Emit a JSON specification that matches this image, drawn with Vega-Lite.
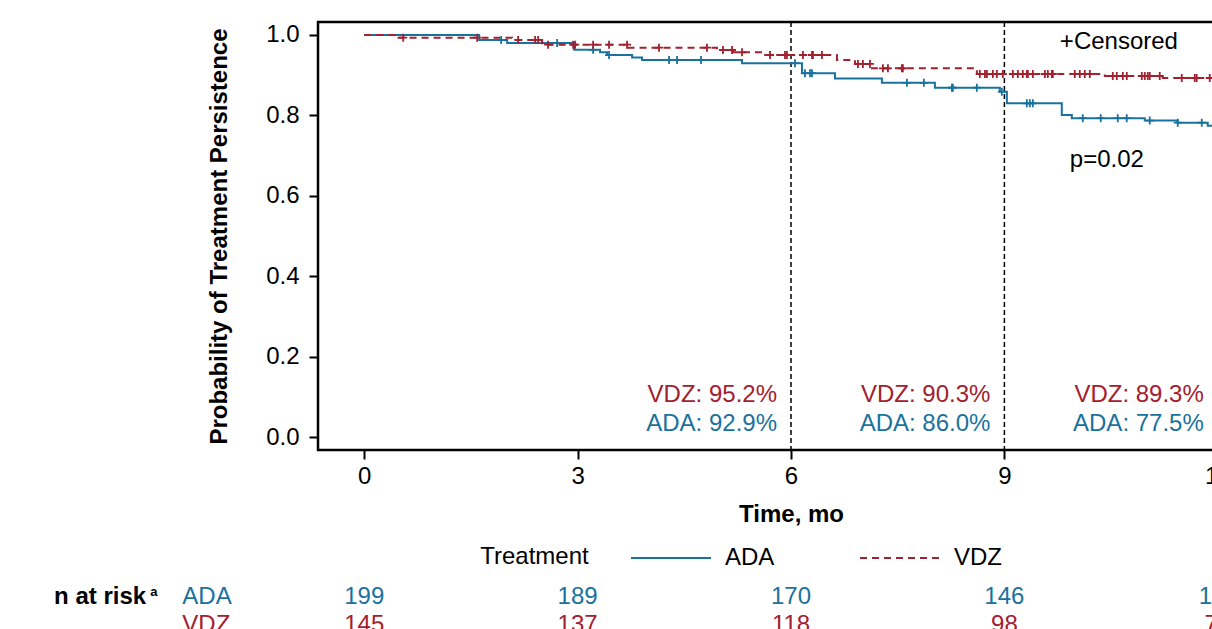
{
  "$schema": "https://vega.github.io/schema/vega-lite/v6.json",
  "width": 946,
  "height": 428,
  "autosize": {"type": "none"},
  "padding": {"left": 318, "top": 22, "right": 0, "bottom": 179},
  "config": {
    "font": "Liberation Sans",
    "view": {"stroke": "black", "strokeWidth": 2.5},
    "axis": {"grid": false, "domain": false, "tickColor": "black", "tickWidth": 2, "tickSize": 9, "labelColor": "black", "labelFontSize": 24, "titleFontSize": 24, "titleFontWeight": "bold", "titleColor": "black"}
  },
  "datasets": {
    "km": [
      {"group": "ADA", "time": 0, "surv": 1.0},
      {"group": "ADA", "time": 1.616, "surv": 0.9876},
      {"group": "ADA", "time": 2.009, "surv": 0.98},
      {"group": "ADA", "time": 2.951, "surv": 0.963},
      {"group": "ADA", "time": 3.316, "surv": 0.957},
      {"group": "ADA", "time": 3.414, "surv": 0.95},
      {"group": "ADA", "time": 3.766, "surv": 0.944},
      {"group": "ADA", "time": 3.906, "surv": 0.938},
      {"group": "ADA", "time": 5.311, "surv": 0.93},
      {"group": "ADA", "time": 6.154, "surv": 0.905},
      {"group": "ADA", "time": 6.618, "surv": 0.892},
      {"group": "ADA", "time": 7.278, "surv": 0.881},
      {"group": "ADA", "time": 8.023, "surv": 0.869},
      {"group": "ADA", "time": 8.936, "surv": 0.859},
      {"group": "ADA", "time": 9.035, "surv": 0.83},
      {"group": "ADA", "time": 9.807, "surv": 0.801},
      {"group": "ADA", "time": 9.948, "surv": 0.793},
      {"group": "ADA", "time": 10.974, "surv": 0.787},
      {"group": "ADA", "time": 11.437, "surv": 0.782},
      {"group": "ADA", "time": 11.859, "surv": 0.774},
      {"group": "ADA", "time": 12.3, "surv": 0.774},
      {"group": "VDZ", "time": 0, "surv": 1.0},
      {"group": "VDZ", "time": 0.464, "surv": 0.9933},
      {"group": "VDZ", "time": 2.08, "surv": 0.9876},
      {"group": "VDZ", "time": 2.5, "surv": 0.976},
      {"group": "VDZ", "time": 3.709, "surv": 0.9684},
      {"group": "VDZ", "time": 4.96, "surv": 0.9627},
      {"group": "VDZ", "time": 5.185, "surv": 0.957},
      {"group": "VDZ", "time": 5.592, "surv": 0.9502},
      {"group": "VDZ", "time": 6.646, "surv": 0.938},
      {"group": "VDZ", "time": 6.899, "surv": 0.928},
      {"group": "VDZ", "time": 7.138, "surv": 0.917},
      {"group": "VDZ", "time": 8.613, "surv": 0.903},
      {"group": "VDZ", "time": 10.412, "surv": 0.898},
      {"group": "VDZ", "time": 11.227, "surv": 0.893},
      {"group": "VDZ", "time": 12.3, "surv": 0.893}
    ],
    "censor": [
      {"group": "ADA", "time": 1.925, "surv": 0.9876},
      {"group": "ADA", "time": 2.712, "surv": 0.98},
      {"group": "ADA", "time": 3.218, "surv": 0.963},
      {"group": "ADA", "time": 3.442, "surv": 0.95},
      {"group": "ADA", "time": 4.286, "surv": 0.938},
      {"group": "ADA", "time": 4.398, "surv": 0.938},
      {"group": "ADA", "time": 4.735, "surv": 0.938},
      {"group": "ADA", "time": 6.056, "surv": 0.93},
      {"group": "ADA", "time": 6.196, "surv": 0.905},
      {"group": "ADA", "time": 6.267, "surv": 0.905},
      {"group": "ADA", "time": 6.295, "surv": 0.905},
      {"group": "ADA", "time": 7.63, "surv": 0.881},
      {"group": "ADA", "time": 7.868, "surv": 0.881},
      {"group": "ADA", "time": 8.262, "surv": 0.869},
      {"group": "ADA", "time": 8.276, "surv": 0.869},
      {"group": "ADA", "time": 8.613, "surv": 0.869},
      {"group": "ADA", "time": 8.964, "surv": 0.859},
      {"group": "ADA", "time": 9.316, "surv": 0.83},
      {"group": "ADA", "time": 9.358, "surv": 0.83},
      {"group": "ADA", "time": 9.4, "surv": 0.83},
      {"group": "ADA", "time": 10.102, "surv": 0.793},
      {"group": "ADA", "time": 10.355, "surv": 0.793},
      {"group": "ADA", "time": 10.594, "surv": 0.793},
      {"group": "ADA", "time": 10.72, "surv": 0.793},
      {"group": "ADA", "time": 11.044, "surv": 0.787},
      {"group": "ADA", "time": 11.437, "surv": 0.782},
      {"group": "ADA", "time": 11.775, "surv": 0.782},
      {"group": "VDZ", "time": 0.548, "surv": 0.9933},
      {"group": "VDZ", "time": 1.588, "surv": 0.9933},
      {"group": "VDZ", "time": 2.164, "surv": 0.9876},
      {"group": "VDZ", "time": 2.403, "surv": 0.9876},
      {"group": "VDZ", "time": 2.445, "surv": 0.9876},
      {"group": "VDZ", "time": 2.585, "surv": 0.976},
      {"group": "VDZ", "time": 2.937, "surv": 0.976},
      {"group": "VDZ", "time": 2.965, "surv": 0.976},
      {"group": "VDZ", "time": 3.218, "surv": 0.976},
      {"group": "VDZ", "time": 3.442, "surv": 0.976},
      {"group": "VDZ", "time": 3.695, "surv": 0.976},
      {"group": "VDZ", "time": 4.145, "surv": 0.9684},
      {"group": "VDZ", "time": 4.819, "surv": 0.9684},
      {"group": "VDZ", "time": 5.044, "surv": 0.9627},
      {"group": "VDZ", "time": 5.171, "surv": 0.9627},
      {"group": "VDZ", "time": 5.311, "surv": 0.957},
      {"group": "VDZ", "time": 5.705, "surv": 0.9502},
      {"group": "VDZ", "time": 5.915, "surv": 0.9502},
      {"group": "VDZ", "time": 5.943, "surv": 0.9502},
      {"group": "VDZ", "time": 6.168, "surv": 0.9502},
      {"group": "VDZ", "time": 6.295, "surv": 0.9502},
      {"group": "VDZ", "time": 6.309, "surv": 0.9502},
      {"group": "VDZ", "time": 6.435, "surv": 0.9502},
      {"group": "VDZ", "time": 6.941, "surv": 0.928},
      {"group": "VDZ", "time": 7.011, "surv": 0.928},
      {"group": "VDZ", "time": 7.11, "surv": 0.928},
      {"group": "VDZ", "time": 7.292, "surv": 0.917},
      {"group": "VDZ", "time": 7.363, "surv": 0.917},
      {"group": "VDZ", "time": 7.559, "surv": 0.917},
      {"group": "VDZ", "time": 7.573, "surv": 0.917},
      {"group": "VDZ", "time": 8.655, "surv": 0.903},
      {"group": "VDZ", "time": 8.726, "surv": 0.903},
      {"group": "VDZ", "time": 8.754, "surv": 0.903},
      {"group": "VDZ", "time": 8.838, "surv": 0.903},
      {"group": "VDZ", "time": 8.894, "surv": 0.903},
      {"group": "VDZ", "time": 8.978, "surv": 0.903},
      {"group": "VDZ", "time": 9.119, "surv": 0.903},
      {"group": "VDZ", "time": 9.189, "surv": 0.903},
      {"group": "VDZ", "time": 9.259, "surv": 0.903},
      {"group": "VDZ", "time": 9.316, "surv": 0.903},
      {"group": "VDZ", "time": 9.33, "surv": 0.903},
      {"group": "VDZ", "time": 9.4, "surv": 0.903},
      {"group": "VDZ", "time": 9.569, "surv": 0.903},
      {"group": "VDZ", "time": 9.611, "surv": 0.903},
      {"group": "VDZ", "time": 9.667, "surv": 0.903},
      {"group": "VDZ", "time": 9.681, "surv": 0.903},
      {"group": "VDZ", "time": 9.99, "surv": 0.903},
      {"group": "VDZ", "time": 10.06, "surv": 0.903},
      {"group": "VDZ", "time": 10.13, "surv": 0.903},
      {"group": "VDZ", "time": 10.201, "surv": 0.903},
      {"group": "VDZ", "time": 10.524, "surv": 0.898},
      {"group": "VDZ", "time": 10.58, "surv": 0.898},
      {"group": "VDZ", "time": 10.665, "surv": 0.898},
      {"group": "VDZ", "time": 10.721, "surv": 0.898},
      {"group": "VDZ", "time": 10.932, "surv": 0.898},
      {"group": "VDZ", "time": 10.974, "surv": 0.898},
      {"group": "VDZ", "time": 11.016, "surv": 0.898},
      {"group": "VDZ", "time": 11.044, "surv": 0.898},
      {"group": "VDZ", "time": 11.184, "surv": 0.898},
      {"group": "VDZ", "time": 11.494, "surv": 0.893},
      {"group": "VDZ", "time": 11.676, "surv": 0.893},
      {"group": "VDZ", "time": 11.704, "surv": 0.893},
      {"group": "VDZ", "time": 11.887, "surv": 0.893}
    ],
    "pct": [
      {"group": "VDZ", "time": 6, "label": "VDZ: 95.2%"},
      {"group": "VDZ", "time": 9, "label": "VDZ: 90.3%"},
      {"group": "VDZ", "time": 12, "label": "VDZ: 89.3%"},
      {"group": "ADA", "time": 6, "label": "ADA: 92.9%"},
      {"group": "ADA", "time": 9, "label": "ADA: 86.0%"},
      {"group": "ADA", "time": 12, "label": "ADA: 77.5%"}
    ],
    "risk": [
      {"group": "ADA", "time": 0, "n": 199},
      {"group": "ADA", "time": 3, "n": 189},
      {"group": "ADA", "time": 6, "n": 170},
      {"group": "ADA", "time": 9, "n": 146},
      {"group": "ADA", "time": 12, "n": 117},
      {"group": "VDZ", "time": 0, "n": 145},
      {"group": "VDZ", "time": 3, "n": 137},
      {"group": "VDZ", "time": 6, "n": 118},
      {"group": "VDZ", "time": 9, "n": 98},
      {"group": "VDZ", "time": 12, "n": 72}
    ]
  },
  "layer": [
    {
      "data": {"values": [{"time": 6}, {"time": 9}]},
      "mark": {"type": "rule", "color": "black", "strokeWidth": 1.5, "strokeDash": [5, 3]},
      "encoding": {
        "x": {"field": "time", "type": "quantitative", "scale": {"domain": [-0.65, 12.65], "nice": false, "zero": false},
          "axis": {"values": [0, 3, 6, 9, 12], "format": "d", "title": "Time, mo", "labelPadding": 5, "titlePadding": 14}}
      }
    },
    {
      "data": {"name": "km"},
      "mark": {"type": "line", "interpolate": "step-after", "strokeWidth": 2},
      "encoding": {
        "x": {"field": "time", "type": "quantitative"},
        "y": {"field": "surv", "type": "quantitative", "scale": {"domain": [-0.0323, 1.0323], "nice": false, "zero": false},
          "axis": {"values": [0, 0.2, 0.4, 0.6, 0.8, 1.0], "format": ".1f", "title": "Probability of Treatment Persistence", "labelPadding": 10, "titlePadding": 34}},
        "color": {"field": "group", "type": "nominal",
          "scale": {"domain": ["ADA", "VDZ"], "range": ["#19729E", "#A3202E"]},
          "legend": {"orient": "none", "legendX": 312, "legendY": 495, "direction": "horizontal", "title": null, "labelFontSize": 24, "labelColor": "black", "labelOffset": 13, "symbolType": "stroke", "symbolSize": 6400, "symbolStrokeWidth": 2, "columnPadding": 81}},
        "strokeDash": {"field": "group", "type": "nominal",
          "scale": {"domain": ["ADA", "VDZ"], "range": [[1, 0], [7, 5]]},
          "legend": {"orient": "none", "legendX": 312, "legendY": 495, "direction": "horizontal", "title": null, "labelFontSize": 24, "labelColor": "black", "labelOffset": 13, "symbolType": "stroke", "symbolSize": 6400, "symbolStrokeWidth": 2, "columnPadding": 81}}
      }
    },
    {
      "data": {"name": "censor"},
      "mark": {"type": "point", "shape": "M-1,0L1,0M0,-1L0,1", "size": 64, "filled": false, "strokeWidth": 1.8, "opacity": 1},
      "encoding": {
        "x": {"field": "time", "type": "quantitative"},
        "y": {"field": "surv", "type": "quantitative"},
        "color": {"field": "group", "type": "nominal"}
      }
    },
    {
      "data": {"name": "pct"},
      "transform": [{"filter": "datum.group == 'VDZ'"}],
      "mark": {"type": "text", "align": "right", "baseline": "middle", "fontSize": 24, "dx": -14, "color": "#A3202E"},
      "encoding": {
        "x": {"field": "time", "type": "quantitative"},
        "y": {"datum": 0.1045},
        "text": {"field": "label"}
      }
    },
    {
      "data": {"name": "pct"},
      "transform": [{"filter": "datum.group == 'ADA'"}],
      "mark": {"type": "text", "align": "right", "baseline": "middle", "fontSize": 24, "dx": -14, "color": "#19729E"},
      "encoding": {
        "x": {"field": "time", "type": "quantitative"},
        "y": {"datum": 0.0323},
        "text": {"field": "label"}
      }
    },
    {
      "data": {"values": [{"label": "+Censored"}]},
      "mark": {"type": "text", "align": "left", "baseline": "middle", "fontSize": 24, "color": "black"},
      "encoding": {"x": {"datum": 9.78}, "y": {"datum": 0.9826}, "text": {"field": "label"}}
    },
    {
      "data": {"values": [{"label": "p=0.02"}]},
      "mark": {"type": "text", "align": "left", "baseline": "middle", "fontSize": 24, "color": "black"},
      "encoding": {"x": {"datum": 9.92}, "y": {"datum": 0.689}, "text": {"field": "label"}}
    },
    {
      "data": {"values": [{"label": "Treatment"}]},
      "mark": {"type": "text", "align": "left", "baseline": "middle", "fontSize": 24, "color": "black"},
      "encoding": {"x": {"datum": 1.631}, "y": {"datum": -0.2985}, "text": {"field": "label"}}
    },
    {
      "data": {"name": "risk"},
      "transform": [{"filter": "datum.group == 'ADA'"}],
      "mark": {"type": "text", "align": "center", "baseline": "middle", "fontSize": 24, "color": "#19729E"},
      "encoding": {"x": {"field": "time", "type": "quantitative"}, "y": {"datum": -0.398}, "text": {"field": "n"}}
    },
    {
      "data": {"name": "risk"},
      "transform": [{"filter": "datum.group == 'VDZ'"}],
      "mark": {"type": "text", "align": "center", "baseline": "middle", "fontSize": 24, "color": "#A3202E"},
      "encoding": {"x": {"field": "time", "type": "quantitative"}, "y": {"datum": -0.468}, "text": {"field": "n"}}
    },
    {
      "data": {"values": [{"label": "ADA"}]},
      "mark": {"type": "text", "align": "left", "baseline": "middle", "fontSize": 24, "color": "#19729E"},
      "encoding": {"x": {"datum": -2.557}, "y": {"datum": -0.398}, "text": {"field": "label"}}
    },
    {
      "data": {"values": [{"label": "VDZ"}]},
      "mark": {"type": "text", "align": "left", "baseline": "middle", "fontSize": 24, "color": "#A3202E"},
      "encoding": {"x": {"datum": -2.557}, "y": {"datum": -0.468}, "text": {"field": "label"}}
    },
    {
      "data": {"values": [{"label": "n at risk"}]},
      "mark": {"type": "text", "align": "left", "baseline": "middle", "fontSize": 24, "fontWeight": "bold", "color": "black"},
      "encoding": {"x": {"datum": -4.36}, "y": {"datum": -0.398}, "text": {"field": "label"}}
    },
    {
      "data": {"values": [{"label": "a"}]},
      "mark": {"type": "text", "align": "left", "baseline": "middle", "fontSize": 13, "fontWeight": "bold", "color": "black"},
      "encoding": {"x": {"datum": -3.009}, "y": {"datum": -0.3856}, "text": {"field": "label"}}
    }
  ]
}
